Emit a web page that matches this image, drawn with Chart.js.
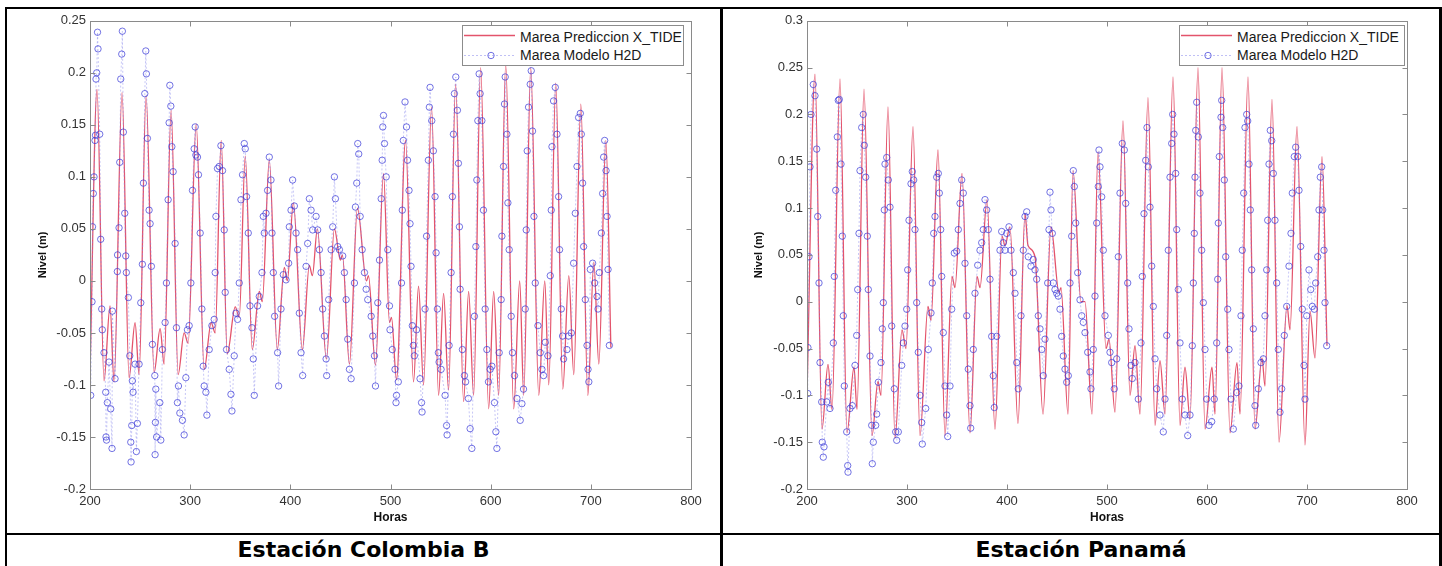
<!DOCTYPE html>
<html><head><meta charset="utf-8">
<script src="https://cdn.jsdelivr.net/npm/chart.js@4.4.1/dist/chart.umd.min.js"></script>
<style>
html,body{margin:0;padding:0;background:#fff;}
#page{position:relative;width:1442px;height:566px;overflow:hidden;background:#fff;font-family:"Liberation Sans",Arial,sans-serif;}
.rule{position:absolute;background:#000;}
.cell{position:absolute;}
.legend{position:absolute;background:#fff;border:1px solid #8c8c8c;box-sizing:border-box;font-family:"Liberation Sans",Arial,sans-serif;font-size:14px;color:#1a1a1a;}
.legend .row{position:absolute;left:0;height:18px;line-height:18px;white-space:nowrap;width:100%;}
.legend svg{position:absolute;left:0;top:0;}
.legend span{position:absolute;left:57px;top:0;}
.caption{position:absolute;text-align:center;font-family:"DejaVu Sans",Verdana,sans-serif;font-weight:bold;font-size:22px;line-height:22px;color:#000;}
</style></head>
<body>
<div id="page">
  <div class="cell" style="left:7px;top:9px;width:713px;height:524px;"><canvas id="chartLeft" width="713" height="524"></canvas></div>
  <div class="cell" style="left:723px;top:9px;width:716px;height:524px;"><canvas id="chartRight" width="716" height="524"></canvas></div>

  <div class="legend" style="left:462px;top:25px;width:222px;height:41px;">
    <div class="row" style="top:2px;"><svg width="56" height="18"><line x1="1" y1="7.5" x2="52" y2="7.5" stroke="rgba(220,40,70,0.8)" stroke-width="1.3"/></svg><span>Marea Prediccion X_TIDE</span></div>
    <div class="row" style="top:20px;"><svg width="56" height="18"><line x1="1" y1="9.5" x2="52" y2="9.5" stroke="rgba(130,130,235,0.5)" stroke-width="1" stroke-dasharray="2,2"/><circle cx="28" cy="9.5" r="3.2" fill="none" stroke="rgba(55,55,215,0.7)" stroke-width="1"/></svg><span>Marea Modelo H2D</span></div>
  </div>
  <div class="legend" style="left:1179px;top:25px;width:226px;height:41px;">
    <div class="row" style="top:2px;"><svg width="56" height="18"><line x1="1" y1="7.5" x2="52" y2="7.5" stroke="rgba(220,40,70,0.8)" stroke-width="1.3"/></svg><span>Marea Prediccion X_TIDE</span></div>
    <div class="row" style="top:20px;"><svg width="56" height="18"><line x1="1" y1="9.5" x2="52" y2="9.5" stroke="rgba(130,130,235,0.5)" stroke-width="1" stroke-dasharray="2,2"/><circle cx="28" cy="9.5" r="3.2" fill="none" stroke="rgba(55,55,215,0.7)" stroke-width="1"/></svg><span>Marea Modelo H2D</span></div>
  </div>

  <div class="rule" style="left:5px;top:7px;width:1437px;height:2px;"></div>
  <div class="rule" style="left:5px;top:7px;width:2px;height:570px;"></div>
  <div class="rule" style="left:720px;top:7px;width:3px;height:570px;"></div>
  <div class="rule" style="left:1439px;top:7px;width:3px;height:570px;"></div>
  <div class="rule" style="left:5px;top:533px;width:1437px;height:2px;"></div>

  <div class="caption" style="left:7px;top:539px;width:713px;">Estación Colombia B</div>
  <div class="caption" style="left:723px;top:539px;width:716px;">Estación Panamá</div>
</div>
<script>
// ---------- tick labels ----------
const xTickValues = [200, 300, 400, 500, 600, 700, 800];
const xTickLabels = ["200", "300", "400", "500", "600", "700", "800"];
const yTickValuesLeft = [-0.2, -0.15, -0.1, -0.05, 0, 0.05, 0.1, 0.15, 0.2, 0.25];
const yTickLabelsLeft = ["-0.2", "-0.15", "-0.1", "-0.05", "0", "0.05", "0.1", "0.15", "0.2", "0.25"];
const yTickValuesRight = [-0.2, -0.15, -0.1, -0.05, 0, 0.05, 0.1, 0.15, 0.2, 0.25, 0.3];
const yTickLabelsRight = ["-0.2", "-0.15", "-0.1", "-0.05", "0", "0.05", "0.1", "0.15", "0.2", "0.25", "0.3"];
const seriesNames = ["Marea Prediccion X_TIDE", "Marea Modelo H2D"];
const stationNames = ["Estación Colombia B", "Estación Panamá"];

// ---------- Estación Colombia B : X_TIDE prediction (turning points) ----------
const colombiaTideHours = [
  200,207,214,220,224,232,239,245,249,256,
  264,270,274,281,288,294,298,306,314,321,
  325,331,337,345,349,355,362,369,372,379,
  387,394,397,403,412,419,422,427,436,444,
  450,452,459,467,476,478,485,493,499,501,
  506,515,523,528,533,541,548,553,558,565,
  573,578,583,590,598,603,608,615,623,629,
  633,640,648,654,658,665,672,678,683,690,
  697,703,708,715,720];
const colombiaTideLevels = [
  -0.09,0.184,-0.096,-0.024,-0.097,0.181,-0.093,-0.04,-0.09,0.178,
  -0.088,-0.046,-0.08,0.164,-0.09,-0.05,-0.06,0.151,-0.085,-0.04,
  -0.05,0.135,-0.07,-0.025,-0.035,0.12,-0.066,-0.01,-0.02,0.116,
  -0.066,0.013,0.0,0.075,-0.066,0.015,0.005,0.05,-0.075,0.05,
  0.02,0.025,-0.08,0.07,0.0,0.005,-0.081,0.103,-0.04,-0.035,
  -0.095,0.135,-0.097,-0.005,-0.1,0.167,-0.11,-0.012,-0.105,0.189,
  -0.116,-0.01,-0.11,0.205,-0.123,-0.01,-0.11,0.208,-0.123,0.0,
  -0.11,0.205,-0.11,0.0,-0.1,0.19,-0.104,0.005,-0.09,0.17,
  -0.11,0.018,-0.08,0.135,-0.064];

// ---------- Estación Colombia B : H2D model ----------
const colombiaModelHours = [
  200.7,202,202.5,203.3,204,205,205.5,206,206.7,207.5,208,209.7,210.7,211.7,212.3,214,215.7,216,216.5,217.3,219,220.7,222,222.3,225,
  227.3,227.5,229,229.7,230.7,231.7,232.3,233.3,234.7,235.7,236.3,238.3,239.7,240.7,241,241.7,242.3,243,245,246.3,247.3,249,250.7,
  252.3,253.3,254.7,255.7,256.3,257.3,259,260,261.3,262.3,264.7,265,265.3,265.7,266.5,269.7,270.7,272.3,275,
  276.3,278,279,279.7,280.7,281.7,283,285,286.3,287.3,288.3,289.7,292.3,294,295.7,297.3,299,
  300.7,302.3,304,305,305.7,307.3,308.3,310,311.7,313,314,315.7,316.7,319,321.7,324,
  325,325.7,327.3,329,330.7,332.3,334,335,336.3,339,340.7,341.7,344,345.7,347.3,
  349,350.7,352.3,354,355,356.3,358,359.7,361.7,363,364,367.3,369,371.7,
  373,374,375.7,377.3,379,380.7,381.7,383,384.3,387.3,388.3,390.7,393,395.7,
  398.3,399,400.7,402.3,404,405.7,407.3,409,410.7,412.3,415.7,417.3,419,420.7,422.3,
  425.7,427.3,429,430.7,432.3,434,435.7,436.3,438.3,440.7,442.3,444,445,447.3,449,452.3,
  454,455.7,457.3,459,460.7,464,465,466.3,467.3,468.3,469.7,471.7,474,475.7,477.3,
  480.7,482.3,484,485,487.3,489,490.7,491.7,492.3,493,494,495.7,497.3,499,
  499.5,501.8,504.5,505.5,506,507.8,511,511.8,512.8,514.5,516,517,518.5,519.5,520.5,521.8,522.8,523.8,526,529.5,531,531.5,
  534.5,536,537.8,538.8,539.5,541.2,542.8,544.5,545.5,546.8,547.8,548.5,550.5,554.5,556,556.5,558.5,
  560.5,561.8,562.8,563.8,565.2,566.8,567.8,568.8,569.5,571.8,573.8,575,577.8,579.5,581.2,583.8,
  585.2,586.2,587.2,588.5,589.5,591.2,592.8,594.5,596.2,597.8,599.5,601.2,603.8,605.2,606.2,608.5,
  610.5,611.2,612.8,613.8,614.5,616.2,617.2,618.5,620.5,621.8,623.8,626.2,629.5,631.2,632.8,
  634.5,635.5,636.5,637.8,639.5,640.5,641.8,643.2,644.5,647.2,649.5,651.2,652.8,654.5,657.2,
  659.5,660.5,661.2,662.8,664.5,666.2,667.8,668.8,670.5,671.8,672.8,676.2,677.8,680.5,
  682.8,684.5,686.2,687.8,689.5,690.5,691.8,692.8,694.5,696.2,697.2,698,699.5,701.8,703.8,706.2,707.2,
  708.5,710.5,711.8,712.8,713.8,715.2,716.2,717.2,718.5];
const colombiaModelLevels = [
  -0.11,-0.02,0.052,0.084,0.1,0.135,0.14,0.194,0.2,0.239,0.223,0.141,0.04,-0.027,-0.047,-0.069,-0.107,-0.15,-0.153,-0.117,-0.078,-0.123,-0.161,-0.029,-0.094,
  0.009,0.025,0.051,0.114,0.194,0.218,0.24,0.143,0.065,0.024,0.008,-0.016,-0.072,-0.155,-0.174,-0.139,-0.096,-0.107,-0.08,-0.164,-0.137,-0.08,-0.021,
  0.016,0.094,0.18,0.221,0.199,0.137,0.068,0.055,0.014,-0.061,-0.091,-0.167,-0.136,-0.104,-0.15,-0.117,-0.153,-0.066,-0.04,
  -0.002,0.078,0.152,0.188,0.168,0.129,0.105,0.036,-0.045,-0.117,-0.101,-0.127,-0.134,-0.148,-0.093,-0.047,-0.043,
  -0.002,0.087,0.127,0.148,0.121,0.119,0.102,0.046,-0.027,-0.082,-0.101,-0.107,-0.129,-0.066,-0.043,-0.037,
  0.008,0.062,0.108,0.11,0.13,0.106,0.049,-0.011,-0.066,-0.085,-0.109,-0.125,-0.072,-0.031,-0.037,
  -0.002,0.078,0.102,0.132,0.127,0.081,0.046,-0.024,-0.045,-0.075,-0.11,-0.024,-0.015,0.008,
  0.062,0.046,0.065,0.087,0.119,0.097,0.046,0.008,-0.034,-0.069,-0.101,-0.027,0.006,0.001,
  0.017,0.052,0.068,0.097,0.072,0.046,0.03,-0.031,-0.069,-0.091,0.014,0.036,0.079,0.068,0.049,
  0.062,0.049,0.03,0.008,-0.027,-0.053,-0.075,-0.091,-0.018,0.03,0.052,0.1,0.079,0.033,0.03,0.024,
  0.008,-0.018,-0.056,-0.085,-0.094,-0.002,0.071,0.094,0.132,0.122,0.062,0.03,0.008,-0.008,-0.018,
  -0.034,-0.053,-0.072,-0.101,-0.021,0.02,0.079,0.116,0.148,0.159,0.132,0.1,0.03,-0.024,
  -0.047,-0.066,-0.085,-0.117,-0.11,-0.097,-0.002,0.068,0.135,0.172,0.148,0.116,0.087,0.055,0.014,-0.043,-0.062,-0.072,-0.047,-0.094,-0.117,-0.126,
  -0.027,0.043,0.116,0.167,0.186,0.154,0.125,0.081,0.027,-0.027,-0.069,-0.078,-0.085,-0.11,-0.139,-0.148,-0.062,
  0.008,0.081,0.141,0.18,0.196,0.164,0.113,0.052,-0.008,-0.066,-0.091,-0.097,-0.113,-0.142,-0.161,-0.034,
  0.033,0.097,0.154,0.199,0.18,0.154,0.068,-0.027,-0.066,-0.097,-0.085,-0.082,-0.117,-0.145,-0.161,-0.069,
  -0.018,0.043,0.11,0.17,0.196,0.141,0.075,0.03,-0.034,-0.069,-0.091,-0.113,-0.134,-0.118,-0.104,
  -0.027,0.049,0.125,0.167,0.189,0.202,0.144,0.062,-0.002,-0.043,-0.069,-0.085,-0.091,-0.059,-0.072,
  0.005,0.068,0.129,0.173,0.186,0.141,0.081,0.03,-0.027,-0.053,-0.075,-0.066,-0.053,-0.05,
  0.017,0.065,0.11,0.157,0.161,0.141,0.094,0.033,-0.018,-0.062,-0.085,-0.097,0.011,0.017,-0.002,-0.015,-0.027,
  0.008,0.046,0.084,0.119,0.135,0.106,0.062,0.011,-0.062];

// ---------- Estación Panamá : X_TIDE prediction (turning points) ----------
const panamaTideHours = [
  200,208,215,221,225,233,240,247,250,257,
  265,271,274,281,288,295,299,306,313,321,
  324,331,338,345,348,355,363,370,373,380,
  388,395,398,403,411,418,421,428,436,444,
  452,454,461,466,474,478,485,491,499,502,
  508,516,523,528,533,541,548,553,558,566,
  573,578,583,591,598,605,608,615,623,630,
  633,641,648,655,658,665,672,680,683,690,
  698,703,708,715,720];
const panamaTideLevels = [
  -0.1,0.243,-0.136,-0.067,-0.115,0.238,-0.14,-0.07,-0.115,0.227,
  -0.143,-0.085,-0.1,0.208,-0.146,-0.03,-0.05,0.187,-0.143,-0.005,
  -0.02,0.162,-0.143,0.027,0.015,0.137,-0.14,0.027,0.015,0.109,
  -0.136,0.07,0.06,0.08,-0.13,0.094,0.06,0.048,-0.12,0.08,
  0.01,0.015,-0.12,0.14,0.0,0.0,-0.12,0.16,-0.05,-0.04,
  -0.118,0.193,-0.1,-0.047,-0.12,0.218,-0.132,-0.063,-0.12,0.24,
  -0.132,-0.07,-0.125,0.25,-0.136,-0.07,-0.12,0.25,-0.14,-0.065,
  -0.12,0.24,-0.136,-0.06,-0.09,0.216,-0.15,-0.004,-0.03,0.187,
  -0.153,-0.01,-0.06,0.155,-0.047];

// ---------- Estación Panamá : H2D model ----------
const panamaModelHours = [
  200.7,200.9,202,203,204,206.3,208,209.7,210.7,212,213,214.7,215.3,216.3,217,219.7,221.3,223,
  226.3,227.3,228.7,230.3,231.3,232.3,234,235.3,236.3,237.3,239.7,240.7,241,243,245.3,248,249.7,
  250.7,252,253,254.7,256.3,257.3,258.7,260.3,261.3,263,264.7,265.3,266.3,268.7,269.7,271.3,274,
  275.3,276.3,277.3,278,279.7,281.3,283,284.7,287.3,288.7,289.7,291.3,294.7,296.3,298,
  299.7,300.7,302,304,305.3,306.7,308,309.7,311.3,313,314.7,315.3,318.7,321.3,324,
  325.3,326.7,328,329.7,331.3,332.3,333.7,334.7,336.3,338,339.7,340.7,343,344.7,347.3,
  349.7,351.3,353,354.7,356.3,358,359.7,361.3,363,363.7,366.3,368,370.7,373,
  374.7,376.3,378,379.7,381.3,383,384.7,386.3,387.3,389.7,393,394.7,396.3,
  398,399.7,402,404,406.3,408,409.7,411.3,414,416.3,418,419.7,421.3,
  424,426.3,428,429.7,431.3,433,434.7,436.3,438,440.7,442,443,444,445.3,446.3,
  448,449.7,451.3,453,454.7,456.3,458,459.7,461.3,463,464.7,466.3,467.3,468.7,470.7,473,474.7,476.3,
  478,480.7,483,484,486.3,488,489.7,491.3,492,493,494.7,496.3,498,
  501.3,503,504.7,507.3,509.7,511.3,513,515.3,517.3,518.7,520.7,522,524,525.3,528,531.3,
  534,535.3,537,538.7,540,541.3,543,544.7,546.3,548,549.7,553,556.3,558,
  559.7,561.3,563,564.7,565.7,567,568.7,569.7,571.3,573,575.3,578,580.7,583,
  585.3,586.3,587.3,588,588.7,589.7,591.3,593,594.7,596.3,598,599.7,602,604.7,607.3,
  609.7,610.7,611.3,612.3,614,614.7,615.7,617.3,618.7,620.7,622,624,626.3,629.7,632,
  634,635.3,636.7,638,639.7,640.7,642,643.3,644.7,646.3,648,648.7,651.3,654,656.3,
  658,659.7,660.7,662,663.3,664.7,666.3,668,669.7,671.3,673,674.7,677.3,679.7,
  682,684,685.3,687.3,688.7,690.7,692,693.7,695.3,697,698,699.7,702,703.7,705.3,707.3,
  708.7,710.7,712,713.3,714.7,715.7,717,718,719.7];
const panamaModelLevels = [
  -0.098,-0.049,0.048,0.144,0.2,0.232,0.22,0.163,0.091,0.02,-0.065,-0.107,-0.15,-0.166,-0.155,-0.107,-0.086,-0.114,
  -0.044,0.027,0.119,0.176,0.215,0.216,0.147,0.07,-0.015,-0.09,-0.139,-0.175,-0.182,-0.114,-0.111,-0.068,-0.036,
  0.013,0.073,0.14,0.186,0.2,0.167,0.133,0.07,0.013,-0.058,-0.132,-0.173,-0.15,-0.132,-0.12,-0.086,-0.065,
  -0.029,-0.001,0.098,0.147,0.154,0.13,0.101,-0.026,-0.093,-0.139,-0.148,-0.139,-0.068,-0.044,-0.026,
  -0.008,0.034,0.087,0.126,0.139,0.13,0.077,-0.001,-0.054,-0.1,-0.129,-0.152,-0.114,-0.051,-0.012,
  0.02,0.073,0.091,0.133,0.137,0.116,0.077,0.027,-0.033,-0.09,-0.121,-0.144,-0.09,-0.008,0.052,
  0.054,0.077,0.105,0.13,0.116,0.041,-0.015,-0.072,-0.111,-0.135,-0.051,0.009,0.039,0.055,
  0.063,0.077,0.109,0.098,0.077,0.024,-0.037,-0.079,-0.113,-0.037,0.055,0.075,0.063,
  0.055,0.073,0.08,0.055,0.031,0.009,-0.065,-0.093,-0.015,0.055,0.091,0.096,0.048,
  0.038,0.045,0.034,0.024,-0.015,-0.029,-0.051,-0.079,-0.04,0.02,0.077,0.117,0.098,0.073,0.02,
  0.013,0.009,0.006,-0.008,-0.037,-0.058,-0.072,-0.086,-0.079,0.02,0.07,0.14,0.123,0.084,0.031,0.002,-0.015,-0.022,
  -0.033,-0.054,-0.075,-0.093,-0.051,0.006,0.084,0.123,0.162,0.144,0.112,0.055,-0.015,
  -0.036,-0.054,-0.065,-0.093,-0.061,0.048,0.116,0.169,0.162,0.105,0.02,-0.029,-0.068,-0.082,-0.065,-0.104,
  -0.044,0.027,0.094,0.151,0.186,0.144,0.101,0.038,-0.005,-0.061,-0.093,-0.121,-0.139,-0.104,
  -0.036,0.055,0.133,0.169,0.2,0.179,0.137,0.077,0.013,-0.044,-0.104,-0.121,-0.143,-0.121,
  -0.047,0.02,0.073,0.133,0.183,0.213,0.176,0.116,0.055,-0.001,-0.051,-0.104,-0.132,-0.128,-0.104,
  -0.044,0.024,0.084,0.155,0.197,0.215,0.186,0.13,0.048,-0.008,-0.051,-0.104,-0.136,-0.097,-0.09,
  -0.015,0.055,0.116,0.186,0.2,0.193,0.147,0.098,0.034,-0.029,-0.111,-0.132,-0.093,-0.065,-0.061,
  -0.015,0.034,0.087,0.147,0.183,0.172,0.137,0.087,0.02,-0.051,-0.118,-0.093,-0.036,-0.005,
  0.038,0.073,0.116,0.155,0.165,0.155,0.119,0.059,-0.008,-0.068,-0.104,-0.015,0.034,0.013,-0.005,-0.008,
  0.02,0.048,0.098,0.133,0.144,0.098,0.055,-0.001,-0.047];

// ---------- helpers ----------
function zipPoints(xs, ys) {
  const n = Math.min(xs.length, ys.length);
  const out = [];
  for (let i = 0; i < n; i++) out.push({x: xs[i], y: ys[i]});
  return out;
}
function labelFor(values, labels, v) {
  for (let i = 0; i < values.length; i++) if (Math.abs(values[i] - v) < 1e-9) return labels[i];
  return '';
}

const matlabFrame = {
  id: 'matlabFrame',
  afterDraw(chart) {
    const {ctx, chartArea: a, scales} = chart;
    ctx.save();
    ctx.strokeStyle = '#8a8a8a';
    ctx.lineWidth = 1;
    const L = Math.round(a.left) + 0.5, T = Math.round(a.top) + 0.5;
    const R = Math.round(a.right) + 0.5, B = Math.round(a.bottom) + 0.5;
    ctx.strokeRect(L, T, R - L, B - T);
    const len = 5;
    ctx.beginPath();
    scales.x.ticks.forEach(t => {
      const x = Math.round(scales.x.getPixelForValue(t.value)) + 0.5;
      ctx.moveTo(x, B); ctx.lineTo(x, B - len);
      ctx.moveTo(x, T); ctx.lineTo(x, T + len);
    });
    scales.y.ticks.forEach(t => {
      const y = Math.round(scales.y.getPixelForValue(t.value)) + 0.5;
      ctx.moveTo(L, y); ctx.lineTo(L + len, y);
      ctx.moveTo(R, y); ctx.lineTo(R - len, y);
    });
    ctx.stroke();
    ctx.restore();
  }
};

const tickFont = {family: '"Liberation Sans", Arial, sans-serif', size: 13};
const titleFontFamily = '"Liberation Sans", Arial, sans-serif';

function makeChart(canvasId, cfg) {
  return new Chart(document.getElementById(canvasId), {
    type: 'line',
    data: {
      datasets: [
        {
          label: seriesNames[0],
          data: zipPoints(cfg.tideHours, cfg.tideLevels),
          borderColor: 'rgba(220,40,70,0.8)',
          borderWidth: 1.3,
          pointRadius: 0,
          cubicInterpolationMode: 'monotone',
          fill: false,
          order: 1
        },
        {
          label: seriesNames[1],
          data: zipPoints(cfg.modelHours, cfg.modelLevels),
          borderColor: 'rgba(130,130,235,0.45)',
          borderWidth: 1,
          borderDash: [2, 2],
          pointRadius: 3.2,
          pointStyle: 'circle',
          pointBorderColor: 'rgba(55,55,215,0.7)',
          pointBackgroundColor: 'rgba(0,0,0,0)',
          pointBorderWidth: 1,
          fill: false,
          order: 0
        }
      ]
    },
    options: {
      responsive: false,
      animation: false,
      devicePixelRatio: 1,
      layout: {padding: {top: 9, right: cfg.padRight, left: 0, bottom: 0}},
      plugins: {legend: {display: false}, tooltip: {enabled: false}},
      scales: {
        x: {
          type: 'linear',
          min: 200, max: 800,
          afterBuildTicks: s => { s.ticks = xTickValues.map(v => ({value: v})); },
          afterFit: s => { s.height = 44; },
          grid: {display: false, drawTicks: false},
          border: {display: false},
          ticks: {
            padding: 5, color: '#333', font: tickFont, autoSkip: false, maxRotation: 0,
            callback: v => labelFor(xTickValues, xTickLabels, v)
          },
          title: {display: true, text: 'Horas', color: '#111',
                  font: {family: titleFontFamily, size: 12, weight: 'bold'},
                  padding: {top: 0, bottom: 8}}
        },
        y: {
          type: 'linear',
          min: cfg.yMin, max: cfg.yMax,
          afterBuildTicks: s => { s.ticks = cfg.yTicks.map(v => ({value: v})); },
          afterFit: s => { s.width = cfg.yAxisWidth; },
          grid: {display: false, drawTicks: false},
          border: {display: false},
          ticks: {
            padding: 4, color: '#333', font: tickFont, autoSkip: false,
            callback: v => labelFor(cfg.yTicks, cfg.yLabels, v)
          },
          title: {display: true, text: 'Nivel (m)', color: '#111',
                  font: {family: titleFontFamily, size: 11, weight: 'bold'},
                  padding: {top: 29, bottom: 0}}
        }
      }
    },
    plugins: [matlabFrame]
  });
}

makeChart('chartLeft', {
  tideHours: colombiaTideHours, tideLevels: colombiaTideLevels,
  modelHours: colombiaModelHours, modelLevels: colombiaModelLevels,
  yMin: -0.2, yMax: 0.25, yTicks: yTickValuesLeft, yLabels: yTickLabelsLeft,
  yAxisWidth: 83, padRight: 29
});
makeChart('chartRight', {
  tideHours: panamaTideHours, tideLevels: panamaTideLevels,
  modelHours: panamaModelHours, modelLevels: panamaModelLevels,
  yMin: -0.2, yMax: 0.3, yTicks: yTickValuesRight, yLabels: yTickLabelsRight,
  yAxisWidth: 84, padRight: 32
});
</script>
</body></html>
